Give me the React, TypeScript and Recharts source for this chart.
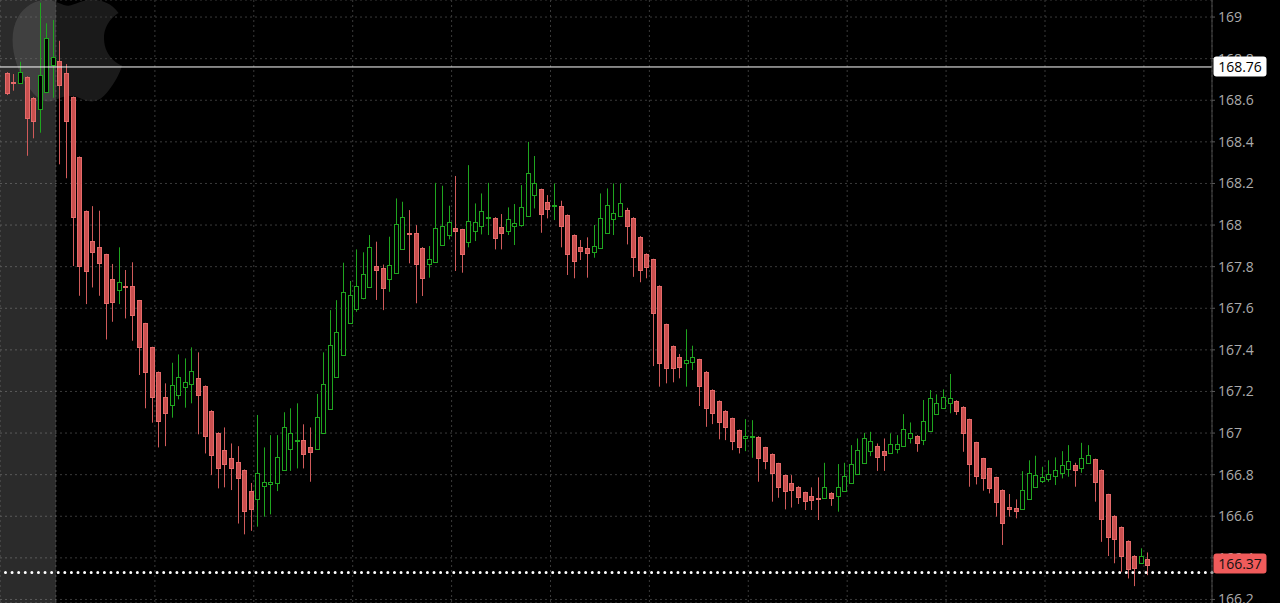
import React from 'react';
import { ComposedChart, Bar, XAxis, YAxis, CartesianGrid, ReferenceLine, ReferenceArea } from 'recharts';

const opens = [
  168.73, 168.688, 168.684, 168.713, 168.612, 168.556, 168.638, 168.771, 168.79, 168.731,
  168.615, 168.328, 168.067, 167.922, 167.896, 167.859, 167.739, 167.688, 167.705, 167.707,
  167.638, 167.527, 167.412, 167.293, 167.175, 167.136, 167.183, 167.223, 167.237, 167.266,
  167.226, 167.107, 167.001, 166.918, 166.881, 166.859, 166.822, 166.721, 166.681, 166.745,
  166.754, 166.761, 166.822, 166.922, 166.961, 166.966, 166.934, 166.922, 166.999, 167.117,
  167.271, 167.375, 167.527, 167.595, 167.648, 167.703, 167.803, 167.795, 167.739, 167.771,
  167.885, 167.96, 167.963, 167.891, 167.813, 167.824, 167.904, 167.952, 167.985, 167.979,
  167.92, 167.971, 167.995, 168.035, 168.035, 167.989, 167.973, 167.997, 168.0, 168.043,
  168.144, 168.172, 168.112, 168.093, 168.093, 168.048, 167.952, 167.893, 167.888, 167.872,
  167.888, 167.96, 168.027, 168.043, 168.072, 168.035, 167.944, 167.861, 167.835, 167.707,
  167.523, 167.418, 167.367, 167.338, 167.343, 167.354, 167.295, 167.207, 167.154, 167.107,
  167.071, 167.014, 166.976, 166.983, 166.982, 166.931, 166.899, 166.854, 166.798, 166.758,
  166.742, 166.715, 166.699, 166.686, 166.686, 166.713, 166.697, 166.721, 166.758, 166.803,
  166.857, 166.915, 166.937, 166.915, 166.902, 166.922, 166.937, 166.975, 166.987, 166.966,
  167.011, 167.091, 167.119, 167.146, 167.155, 167.126, 167.066, 166.955, 166.878, 166.83,
  166.787, 166.726, 166.646, 166.641, 166.633, 166.681, 166.742, 166.771, 166.777, 166.792,
  166.806, 166.825, 166.846, 166.83, 166.854, 166.874, 166.822, 166.705, 166.602, 166.548,
  166.481, 166.41, 166.376, 166.393,
];

const highs = [
  168.735, 168.726, 168.785, 168.715, 168.615, 169.069, 168.97, 168.986, 168.886, 168.774,
  168.618, 168.33, 168.07, 168.091, 168.069, 167.862, 167.813, 167.893, 167.784, 167.821,
  167.64, 167.53, 167.415, 167.296, 167.239, 167.338, 167.378, 167.359, 167.412, 167.388,
  167.229, 167.11, 167.004, 167.027, 166.95, 166.937, 166.825, 166.76, 167.087, 166.931,
  166.99, 166.99, 167.1, 167.119, 167.143, 167.042, 167.027, 167.188, 167.388, 167.591,
  167.639, 167.819, 167.731, 167.883, 167.869, 167.952, 167.92, 167.81, 167.944, 168.128,
  168.112, 168.072, 168.0, 167.894, 167.899, 168.203, 168.189, 168.093, 168.236, 167.982,
  168.288, 168.104, 168.152, 168.203, 168.038, 168.053, 168.085, 168.101, 168.192, 168.4,
  168.332, 168.175, 168.144, 168.2, 168.117, 168.051, 167.955, 167.928, 167.941, 168.0,
  168.152, 168.176, 168.2, 168.2, 168.083, 168.038, 167.947, 167.864, 167.838, 167.71,
  167.526, 167.421, 167.38, 167.499, 167.42, 167.357, 167.298, 167.21, 167.157, 167.11,
  167.074, 167.017, 167.067, 167.062, 166.985, 166.934, 166.902, 166.857, 166.801, 166.798,
  166.745, 166.718, 166.739, 166.787, 166.857, 166.716, 166.851, 166.857, 166.942, 166.974,
  167.001, 167.006, 166.95, 166.974, 166.999, 166.99, 167.091, 167.051, 166.99, 167.159,
  167.207, 167.186, 167.21, 167.284, 167.158, 167.129, 167.069, 166.958, 166.881, 166.833,
  166.79, 166.729, 166.707, 166.681, 166.817, 166.869, 166.891, 166.838, 166.869, 166.883,
  166.913, 166.942, 166.857, 166.953, 166.942, 166.877, 166.825, 166.708, 166.605, 166.551,
  166.484, 166.413, 166.446, 166.426,
];

const lows = [
  168.625, 168.646, 168.684, 168.333, 168.417, 168.444, 168.635, 168.612, 168.292, 168.225,
  167.803, 167.66, 167.62, 167.7, 167.66, 167.45, 167.535, 167.62, 167.551, 167.444,
  167.279, 167.119, 167.05, 166.931, 166.937, 167.074, 167.162, 167.122, 167.143, 166.994,
  166.902, 166.798, 166.734, 166.739, 166.726, 166.565, 166.513, 166.53, 166.55, 166.598,
  166.609, 166.721, 166.82, 166.818, 166.83, 166.83, 166.766, 166.92, 166.997, 167.115,
  167.269, 167.373, 167.525, 167.583, 167.643, 167.7, 167.64, 167.591, 167.679, 167.769,
  167.883, 167.816, 167.624, 167.659, 167.747, 167.822, 167.902, 167.931, 167.779, 167.771,
  167.893, 167.923, 167.955, 167.952, 167.883, 167.883, 167.952, 167.904, 167.992, 168.041,
  168.08, 167.963, 168.032, 168.024, 167.893, 167.76, 167.744, 167.832, 167.747, 167.843,
  167.886, 167.958, 167.952, 168.041, 167.907, 167.751, 167.725, 167.744, 167.322, 167.223,
  167.239, 167.244, 167.263, 167.223, 167.303, 167.13, 167.03, 167.043, 166.97, 166.966,
  166.918, 166.902, 166.913, 166.881, 166.766, 166.826, 166.67, 166.689, 166.633, 166.642,
  166.659, 166.63, 166.63, 166.582, 166.684, 166.65, 166.622, 166.719, 166.756, 166.798,
  166.855, 166.889, 166.818, 166.818, 166.9, 166.902, 166.935, 166.95, 166.91, 166.942,
  167.009, 167.089, 167.117, 167.095, 167.087, 166.91, 166.742, 166.753, 166.723, 166.71,
  166.598, 166.462, 166.598, 166.59, 166.631, 166.679, 166.74, 166.76, 166.766, 166.75,
  166.782, 166.79, 166.742, 166.809, 166.852, 166.67, 166.477, 166.409, 166.374, 166.333,
  166.301, 166.264, 166.374, 166.317,
];

const closes = [
  168.636, 168.684, 168.734, 168.513, 168.5, 168.721, 168.898, 168.806, 168.675, 168.5,
  168.038, 167.803, 167.779, 167.869, 167.819, 167.624, 167.631, 167.727, 167.701, 167.566,
  167.415, 167.292, 167.175, 167.059, 167.095, 167.229, 167.271, 167.247, 167.298, 167.184,
  166.987, 166.894, 166.83, 166.85, 166.831, 166.785, 166.625, 166.633, 166.809, 166.766,
  166.766, 166.883, 167.027, 167.001, 166.965, 166.899, 166.91, 167.078, 167.234, 167.422,
  167.484, 167.676, 167.663, 167.705, 167.764, 167.893, 167.785, 167.696, 167.808, 168.005,
  168.037, 167.956, 167.813, 167.747, 167.835, 167.984, 167.997, 168.016, 167.97, 167.859,
  168.021, 168.016, 168.069, 168.039, 167.936, 167.96, 168.027, 168.008, 168.085, 168.249,
  168.2, 168.053, 168.075, 168.097, 167.997, 167.861, 167.828, 167.876, 167.864, 167.899,
  168.035, 168.096, 168.059, 168.104, 167.997, 167.845, 167.784, 167.8, 167.575, 167.338,
  167.311, 167.311, 167.316, 167.351, 167.364, 167.227, 167.119, 167.095, 167.054, 167.03,
  166.963, 166.934, 166.987, 166.987, 166.878, 166.867, 166.806, 166.742, 166.723, 166.726,
  166.694, 166.675, 166.678, 166.682, 166.742, 166.686, 166.739, 166.793, 166.85, 166.918,
  166.974, 166.962, 166.883, 166.894, 166.946, 166.946, 167.018, 166.999, 166.95, 167.059,
  167.167, 167.146, 167.175, 167.167, 167.106, 167.001, 166.851, 166.795, 166.785, 166.737,
  166.667, 166.566, 166.633, 166.627, 166.726, 166.809, 166.798, 166.79, 166.803, 166.822,
  166.845, 166.865, 166.822, 166.878, 166.894, 166.766, 166.587, 166.499, 166.489, 166.409,
  166.345, 166.349, 166.409, 166.365,
];

const yTicks = [166.2, 166.4, 166.6, 166.8, 167, 167.2, 167.4, 167.6, 167.8, 168, 168.2, 168.4, 168.6, 168.8, 169];
const timeGridTicks = [7.5, 22.5, 37.5, 52.5, 67.5, 82.5, 97.5, 112.5, 127.5, 142.5, 157.5, 172.5];
const xDomain: [number, number] = [-0.993, 182.83];
const yDomain: [number, number] = [166.183, 169.082];
const preMarketEnd = 7.5;
const highlightPrice = 168.76;
const lastPrice = 166.37;
const dottedPrice = 166.33;

const data = opens.map((o, i) => ({
  i,
  o,
  h: highs[i],
  l: lows[i],
  c: closes[i],
  range: [lows[i], highs[i]],
}));

const W = 1280;
const H = 603;
const AXIS_W = 68;

const GREEN = '#1fa51f';
const RED_FILL = '#c9504f';
const RED_STROKE = '#e56a6a';
const RED_WICK = '#d05a5a';
const FONT = "'Open Sans', sans-serif";

const Candle = (props: any) => {
  const { x, y, width, height } = props;
  const p = props.payload || props;
  const { o, h, l, c } = p;
  if (x == null || y == null || !isFinite(y) || !isFinite(height)) return null;
  const cx = Math.round(x + width / 2) + 0.5;
  const span = h - l || 1e-6;
  const py = (v: number) => y + ((h - v) / span) * height;
  const up = c >= o;
  const top = py(Math.max(o, c));
  const bot = py(Math.min(o, c));
  const bt = Math.round(top) + 0.5;
  const bb = Math.max(Math.round(bot) + 0.5, bt + 1);
  return (
    <g>
      <line x1={cx} x2={cx} y1={y} y2={y + height} stroke={up ? GREEN : RED_WICK} strokeWidth={1} />
      <rect
        x={cx - 2}
        y={bt}
        width={4}
        height={bb - bt}
        fill={up ? '#000' : RED_FILL}
        stroke={up ? GREEN : RED_STROKE}
        strokeWidth={1}
      />
    </g>
  );
};

const PriceTag = ({ viewBox, text, bg, fg }: any) => {
  if (!viewBox) return null;
  const x = viewBox.x + viewBox.width + 1;
  const y = viewBox.y;
  return (
    <g>
      <rect x={x + 0.5} y={y - 10.5} width={53} height={20} rx={3} ry={3} fill={bg} />
      <text x={x + 27} y={y} dy="0.36em" textAnchor="middle" fill={fg} fontFamily={FONT} fontSize={14}>
        {text}
      </text>
    </g>
  );
};

const AppleMark = () => (
  <svg width={140} height={120} style={{ position: 'absolute', left: 0, top: 0 }}>
    <g transform="translate(0.1,-32.8) scale(5.6)">
      <path
        fill="#ffffff"
        fillOpacity={0.1}
        d="M12.152 6.896c-.948 0-2.415-1.078-3.96-1.04-2.04.027-3.91 1.183-4.961 3.014-2.117 3.675-.546 9.103 1.519 12.09 1.013 1.454 2.208 3.09 3.792 3.039 1.52-.065 2.09-.987 3.935-.987 1.831 0 2.35.987 3.96.948 1.637-.026 2.676-1.48 3.676-2.948 1.156-1.688 1.636-3.325 1.662-3.415-.039-.013-3.182-1.221-3.22-4.857-.026-3.04 2.48-4.494 2.597-4.559-1.429-2.09-3.623-2.324-4.39-2.376-2-.156-3.675 1.09-4.61 1.09zM15.53 3.83c.843-1.012 1.4-2.427 1.245-3.83-1.207.052-2.662.805-3.532 1.818-.78.896-1.454 2.338-1.273 3.714 1.338.104 2.715-.688 3.559-1.701"
      />
    </g>
  </svg>
);

const fmt = (v: number) => String(Number(v.toFixed(1)));

export default function App() {
  return (
    <div
      style={{
        position: 'absolute',
        left: 0,
        top: 0,
        width: W,
        height: H,
        background: '#000',
        overflow: 'hidden',
      }}
    >
      <AppleMark />
      <div style={{ position: 'absolute', left: 0, top: 0 }}>
        <ComposedChart width={W} height={H} data={data} margin={{ top: 0, right: 0, bottom: 0, left: 0 }}>
          <XAxis type="number" dataKey="i" domain={xDomain} ticks={timeGridTicks} allowDataOverflow hide />
          <YAxis
            orientation="right"
            domain={yDomain}
            ticks={yTicks}
            allowDataOverflow
            width={AXIS_W}
            tickFormatter={fmt}
            axisLine={{ stroke: '#4a4a4a' }}
            tickLine={{ stroke: '#5a5a5a' }}
            tickSize={3}
            tickMargin={3}
            tick={{ fill: '#ababab', fontSize: 14, fontFamily: FONT }}
            interval={0}
          />
          <CartesianGrid stroke="#3a3a3a" strokeDasharray="2 3" />
          <ReferenceArea x1={xDomain[0]} x2={preMarketEnd} fill="#ffffff" fillOpacity={0.17} stroke="none" />
          <ReferenceLine y={highlightPrice} stroke="#ffffff" strokeWidth={1} />
          <ReferenceLine
            y={dottedPrice}
            stroke="#ffffff"
            strokeWidth={3}
            strokeLinecap="round"
            strokeDasharray="0 6.593"
          />
          <Bar dataKey="range" barSize={5} shape={<Candle />} isAnimationActive={false} />
        </ComposedChart>
      </div>
      <div style={{ position: 'absolute', left: 0, top: 0 }}>
        <ComposedChart
          width={W}
          height={H}
          data={data}
          margin={{ top: 0, right: AXIS_W, bottom: 0, left: 0 }}
        >
          <XAxis type="number" dataKey="i" domain={xDomain} allowDataOverflow hide />
          <YAxis domain={yDomain} allowDataOverflow hide />
          <ReferenceLine
            y={highlightPrice}
            stroke="none"
            label={<PriceTag text={highlightPrice.toFixed(2)} bg="#ffffff" fg="#000000" />}
          />
          <ReferenceLine
            y={lastPrice}
            stroke="none"
            label={<PriceTag text={lastPrice.toFixed(2)} bg="#f05b5b" fg="#111111" />}
          />
        </ComposedChart>
      </div>
    </div>
  );
}
